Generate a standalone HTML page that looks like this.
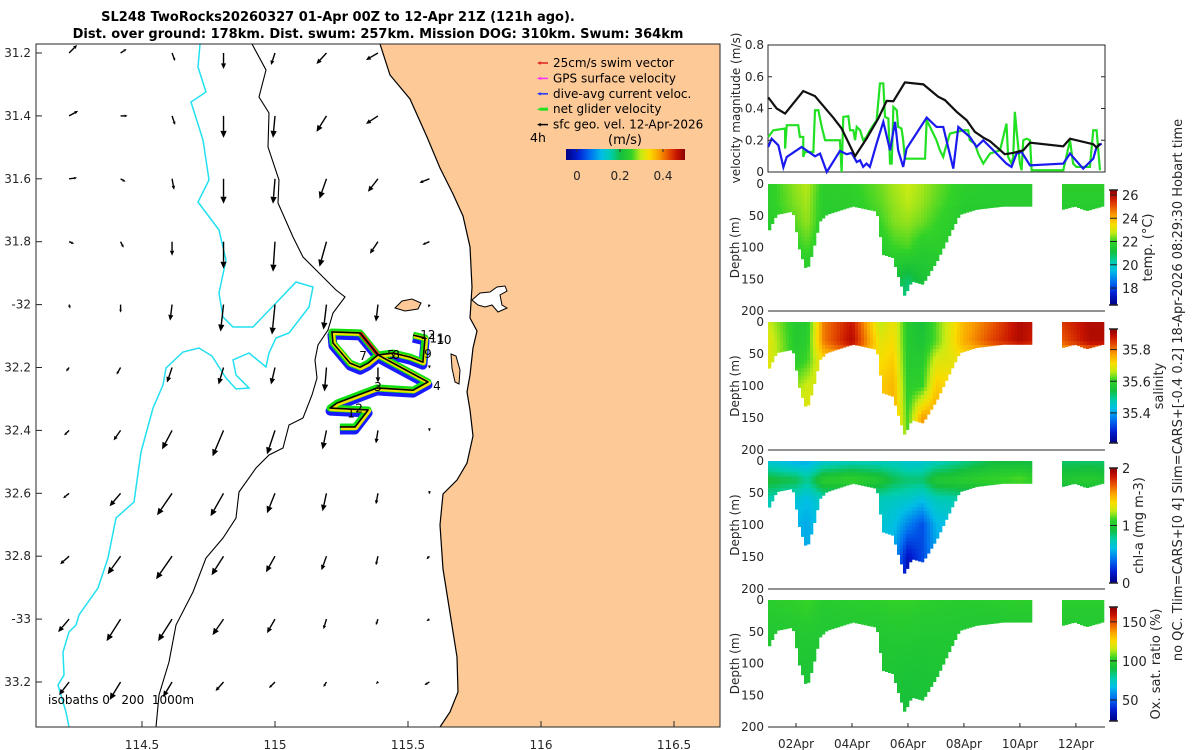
<!DOCTYPE html>
<html><head><meta charset="utf-8">
<style>
html,body{margin:0;padding:0;background:#fff;}
svg{display:block;font-family:"DejaVu Sans","Liberation Sans",sans-serif;}
</style></head>
<body>
<svg id="fig" width="1200" height="750" viewBox="0 0 1200 750" xmlns="http://www.w3.org/2000/svg">
<g id="title" font-weight="bold" font-size="13" fill="#000" text-anchor="middle">
<text x="338" y="21">SL248 TwoRocks20260327 01-Apr 00Z to 12-Apr 21Z (121h ago).</text>
<text x="378" y="38">Dist. over ground: 178km. Dist. swum: 257km. Mission DOG: 310km. Swum: 364km</text>
</g>
<defs>
<clipPath id="mapclip"><rect x="36" y="44" width="684" height="683"/></clipPath>
<linearGradient id="jetH" x1="0" x2="1" y1="0" y2="0"></linearGradient>
<linearGradient id="jetV" x1="0" x2="0" y1="1" y2="0"></linearGradient>
</defs>
<g id="map"></g>
<g id="vel"></g>
<g id="sections"></g>
<text x="1182" y="390" font-size="13" fill="#262626" text-anchor="middle" transform="rotate(-90 1182 390)">no QC. Tlim=CARS+[0 4] Slim=CARS+[-0.4 0.2] 18-Apr-2026 08:29:30 Hobart time</text>
</svg>
<script>
// ---------------- DATA ----------------
const gridLon0 = 114.226, gridDLon = 0.1935;
const gridLats = [-31.2,-31.4,-31.6,-31.8,-32.0,-32.2,-32.4,-32.6,-32.8,-33.0,-33.2];
const vecU = [
 [8,6,3,0,-4,-10,-12,null],
 [9,7,3,0,-2,-10,-12,null],
 [8,5,2,0,-2,-7,-10,-10],
 [5,3,0,0,-2,-7,-8,-7],
 [1,0,-2,-3,-3,-3,-2,-1],
 [-3,-4,-5,-5,-4,-2,0,0],
 [-5,-7,-10,-11,-8,-4,-2,0],
 [-6,-11,-15,-13,-8,-4,-2,0],
 [-9,-13,-16,-12,-9,-5,-2,-3],
 [-11,-14,-14,-11,-8,-3,-2,-3],
 [-10,-11,-9,-8,-6,-3,-2,-5]];
const vecV = [
 [8,4,-8,-16,-12,-11,-7,null],
 [5,0,-9,-22,-22,-16,-8,null],
 [1,-3,-11,-25,-25,-20,-13,-4],
 [-2,-6,-14,-27,-30,-25,-12,-3],
 [-4,-8,-16,-27,-30,-25,-17,-3],
 [-4,-7,-15,-17,-17,-24,-15,-1],
 [-5,-10,-19,-26,-24,-19,-13,-1],
 [-5,-13,-22,-23,-20,-18,-11,-1],
 [-8,-18,-23,-19,-16,-14,-9,-3],
 [-13,-22,-22,-16,-14,-10,-6,-2],
 [-13,-18,-15,-9,-6,-5,-2,-3]];
const trackLon = [115.244,115.301,115.350,115.207,115.233,115.383,115.519,115.575,115.387,115.320,115.214,115.218,115.282,115.320,115.350,115.387,115.444,115.508,115.556,115.564,115.519];
const trackLat = [-32.389,-32.389,-32.335,-32.329,-32.313,-32.265,-32.272,-32.246,-32.160,-32.090,-32.087,-32.122,-32.186,-32.199,-32.186,-32.160,-32.154,-32.167,-32.183,-32.106,-32.097];
const dayLabels = ["1","2","3","4","5","7","8","9","10","11","12"];
const dayLon = [115.286,115.316,115.387,115.609,115.436,115.331,115.455,115.575,115.635,115.609,115.575];
const dayLat = [-32.359,-32.343,-32.275,-32.272,-32.173,-32.176,-32.173,-32.170,-32.126,-32.120,-32.109];
const blackT = [0.01,0.31,0.61,1.26,1.68,2.10,2.33,2.63,3.11,3.52,3.94,4.24,4.48,4.89,5.55,6.08,6.32,6.74,7.10,7.39,7.69,7.93,8.46,8.76,9.12,9.36,10.55,10.79,11.62,11.74,11.86];
const blackV = [0.47,0.40,0.368,0.51,0.478,0.39,0.343,0.274,0.099,0.21,0.337,0.448,0.446,0.564,0.552,0.474,0.453,0.379,0.326,0.253,0.217,0.194,0.112,0.120,0.137,0.185,0.162,0.21,0.175,0.154,0.179];
const blueT = [0.01,0.13,0.37,0.55,0.67,1.20,1.68,1.86,2.10,2.57,2.81,2.99,3.17,3.29,3.40,3.52,3.64,3.88,4.12,4.36,4.54,4.65,4.83,4.95,5.67,6.02,6.26,6.62,6.80,7.21,7.45,7.69,8.05,8.52,8.70,8.88,9.06,9.36,10.55,10.79,11.26,11.62,11.74,11.92];
const blueV = [0.158,0.21,0.168,0.03,0.095,0.158,0.099,0.116,0,0.133,0.112,0.12,0.063,0.074,0.032,0.053,0.032,0.179,0.316,0.137,0.316,0.137,0.032,0.147,0.343,0.284,0.284,0.021,0.284,0.221,0.158,0.2,0.137,0.053,0.032,0.116,0.126,0.042,0.053,0.116,0.021,0.084,0.158,0.179];
const greenT = [0.01,0.19,0.61,0.61,0.67,1.08,1.14,1.26,1.26,1.32,1.62,1.68,1.80,1.92,2.04,2.57,2.63,2.69,2.87,2.93,3.05,3.11,3.17,3.29,3.40,3.52,3.64,3.88,3.94,4.00,4.12,4.18,4.30,4.36,4.42,4.48,4.60,4.65,4.77,4.83,4.89,5.61,5.67,5.79,6.02,6.14,6.26,6.32,6.50,6.98,7.15,7.21,7.39,7.51,7.69,7.93,8.29,8.52,8.58,8.70,8.76,8.82,8.88,9.00,9.06,9.12,9.24,9.36,9.42,10.55,10.79,10.90,11.02,11.50,11.62,11.74,11.86];
const greenV = [0.221,0.263,0.274,0.147,0.295,0.295,0.221,0.221,0.095,0.126,0.126,0.389,0.389,0.284,0.200,0.200,0.0,0.347,0.352,0.263,0.263,0.200,0.284,0.263,0.200,0.221,0.263,0.326,0.442,0.558,0.558,0.347,0.337,0.053,0.053,0.410,0.389,0.284,0.274,0.200,0.084,0.084,0.326,0.284,0.200,0.137,0.095,0.137,0.242,0.263,0.263,0.200,0.179,0.116,0.053,0.116,0.137,0.305,0.095,0.053,0.095,0.379,0.263,0.053,0.011,0.200,0.210,0.200,0.011,0.011,0.200,0.053,0.032,0.032,0.263,0.263,0.011];
const velTicks = [0,0.2,0.4,0.6,0.8];
const dateTicks = [1,3,5,7,9,11];
const dateLabels = ["02Apr","04Apr","06Apr","08Apr","10Apr","12Apr"];
const botT1 = [0,0.32,0.89,1.14,1.39,1.61,1.86,2.11,3.04,3.89,4.11,4.46,4.71,4.89,5.14,5.54,6.04,6.5,6.86,7.46,8.39,9.46];
const botD1 = [77,48,43,106,138,106,59,48,35,43,111,116,153,177,153,158,122,80,48,40,35,35];
const botT2 = [10.54,10.96,11.39,11.96];
const botD2 = [40,35,42,35];
const secT = [0,1,1.4,2,3,4,4.5,5,5.5,6,7,8,9,10.5,11.5,12];
const secD = [0,30,60,100,150,200];
const tempVals = [
 [21.8,22.5,22.7,21.8,21.9,22.3,22.6,22.8,22.6,22.3,21.8,21.7,21.7,21.8,21.8,21.8],
 [21.8,22.4,22.6,21.7,21.8,22.2,22.5,22.7,22.5,22.2,21.7,21.7,21.7,21.7,21.7,21.7],
 [21.7,22.2,22.5,21.7,21.7,22.0,22.4,22.5,22.3,22.0,21.6,21.6,21.6,21.6,21.6,21.6],
 [21.5,21.9,22.1,21.6,21.6,21.7,22.0,22.1,21.7,21.8,21.6,21.6,21.6,21.6,21.6,21.6],
 [21.2,21.5,21.5,21.2,21.2,21.2,21.2,20.8,21.3,21.5,21.2,21.2,21.2,21.2,21.2,21.2],
 [20.8,21.0,21.0,20.8,20.8,20.8,20.8,20.3,20.9,21.0,20.8,20.8,20.8,20.8,20.8,20.8]];
const salVals = [
 [35.67,35.58,35.58,35.80,35.88,35.66,35.70,35.58,35.55,35.62,35.75,35.82,35.90,35.85,35.90,35.90],
 [35.69,35.58,35.59,35.80,35.90,35.69,35.71,35.58,35.56,35.62,35.76,35.84,35.90,35.82,35.90,35.90],
 [35.69,35.59,35.61,35.72,35.76,35.71,35.73,35.58,35.58,35.68,35.70,35.70,35.70,35.70,35.70,35.70],
 [35.69,35.64,35.67,35.69,35.70,35.73,35.75,35.59,35.60,35.73,35.70,35.70,35.70,35.70,35.70,35.70],
 [35.70,35.69,35.69,35.70,35.70,35.72,35.76,35.61,35.77,35.77,35.70,35.70,35.70,35.70,35.70,35.70],
 [35.70,35.70,35.70,35.70,35.70,35.72,35.76,35.62,35.78,35.78,35.70,35.70,35.70,35.70,35.70,35.70]];
const chlVals = [
 [0.65,0.55,0.55,0.65,0.70,0.70,0.70,0.65,0.65,0.70,0.80,0.90,0.90,0.85,0.85,0.85],
 [0.95,0.90,0.80,1.05,1.10,1.00,0.90,0.85,0.85,1.00,1.05,1.10,1.15,1.00,1.05,1.00],
 [0.75,0.65,0.60,0.72,0.72,0.72,0.70,0.68,0.62,0.72,0.76,0.80,0.80,0.80,0.80,0.80],
 [0.68,0.58,0.55,0.65,0.65,0.66,0.62,0.45,0.32,0.58,0.65,0.65,0.65,0.65,0.65,0.65],
 [0.62,0.55,0.55,0.62,0.62,0.62,0.52,0.15,0.30,0.52,0.62,0.62,0.62,0.62,0.62,0.62],
 [0.60,0.55,0.55,0.60,0.60,0.60,0.50,0.05,0.30,0.50,0.60,0.60,0.60,0.60,0.60,0.60]];
const oxVals = [
 [100,102,104,99,100,101,103,103,101,100,99,100,101,100,100,100],
 [98,99,100,97,98,98,99,99,98,98,97,97,98,98,98,98],
 [96,96,97,96,96,96,97,97,96,96,96,96,96,96,96,96],
 [95,95,95,95,95,95,95,94,94,95,95,95,95,95,95,95],
 [93,93,93,93,93,93,93,92,93,93,93,93,93,93,93,93],
 [92,92,92,92,92,92,92,91,92,92,92,92,92,92,92,92]];
const tempTicks = [18,20,22,24,26];
const salTicks = [35.4,35.6,35.8];
const chlTicks = [0,1,2];
const oxTicks = [50,100,150];
const depthTicks = [0,50,100,150,200];
const legendLabels = ["25cm/s swim vector","GPS surface velocity","dive-avg current veloc.","net glider velocity","sfc geo. vel. 12-Apr-2026"];
const legendColors = ["#e02020","#ff30ff","#2030ff","#20e020","#000000"];
const mapLonTicks = [114.5,115,115.5,116,116.5];
const mapLatTicks = [-31.2,-31.4,-31.6,-31.8,-32,-32.2,-32.4,-32.6,-32.8,-33,-33.2];
const cbarTicks = [0,0.2,0.4];

// ---------------- HELPERS ----------------
const NS="http://www.w3.org/2000/svg";
function mk(tag, attrs, parent){const e=document.createElementNS(NS,tag);for(const k in attrs)e.setAttribute(k,attrs[k]);if(parent)parent.appendChild(e);return e;}
function clamp(v){return Math.max(0,Math.min(1,v));}
const cmapStops=[[0,[0,0,130]],[0.1,[0,30,210]],[0.2,[0,110,240]],[0.3,[0,190,230]],[0.38,[0,205,170]],[0.46,[20,190,60]],[0.55,[50,210,40]],[0.63,[200,235,20]],[0.7,[250,220,0]],[0.78,[250,160,0]],[0.86,[230,80,0]],[0.93,[200,20,0]],[1,[140,0,0]]];
function jet(v){v=clamp(v);let i=1;while(i<cmapStops.length-1&&v>cmapStops[i][0])i++;const a=cmapStops[i-1],b=cmapStops[i];const f=(v-a[0])/(b[0]-a[0]);
 const c=a[1].map((x,k)=>Math.round(x+f*(b[1][k]-x)));return "rgb("+c.join(",")+")";}
const lonX = lon => 142 + (lon-114.5)*266;
const latY = lat => 53 + (-31.2-lat)/0.2*62.9;
["jetH","jetV"].forEach(id=>{const g=document.getElementById(id);for(let i=0;i<=40;i++){mk("stop",{offset:(i/40),"stop-color":jet(i/40)},g);}});

// ---------------- MAP ----------------
const map=document.getElementById("map");
mk("rect",{x:36,y:44,width:684,height:683,fill:"#fff"},map);
const mc=mk("g",{"clip-path":"url(#mapclip)"},map);
const coast=[[380,44],[390,75],[410,99],[427,137],[440,168],[453,194],[463,216],[470,247],[472,287],[470,318],[477,331],[473,348],[470,375],[467,392],[470,410],[473,436],[467,463],[457,480],[443,494],[440,525],[443,569],[450,613],[457,657],[458,692],[450,712],[440,727]];
let d="M720,44 L"+coast.map(p=>p.join(",")).join(" L")+" L720,727 Z";
const land=mk("path",{d:d,fill:"#fcc997",stroke:"none"},mc);


const cl=mk("polyline",{points:coast.map(p=>p.join(",")).join(" "),fill:"none",stroke:"#000","stroke-width":1.2},mc);


const est=mk("path",{d:"M472,300 L480,293 L490,292 L497,287 L505,286 L507,291 L500,295 L502,305 L507,308 L498,312 L492,305 L485,307 L478,305 Z",fill:"#fff",stroke:"#000","stroke-width":1},mc);


const rot=mk("path",{d:"M395,308 L402,301 L412,299 L421,303 L418,309 L405,311 Z",fill:"#fcc997",stroke:"#000","stroke-width":1},mc);


const gi=mk("path",{d:"M451,354 L456,356 L460,370 L459,384 L455,382 L452,368 Z",fill:"#fcc997",stroke:"#000","stroke-width":1},mc);


const iso1000=[[200,44],[198,67],[206,92],[191,102],[203,140],[209,180],[198,202],[219,230],[226,260],[219,293],[223,317],[233,327],[253,327],[276,303],[296,282],[313,287],[309,307],[289,333],[276,338],[269,353],[266,367],[249,353],[233,360],[236,375],[249,388],[236,389],[226,378],[212,356],[199,348],[183,352],[166,368],[163,385],[153,408],[141,452],[134,502],[116,518],[108,558],[98,588],[79,615],[76,625],[69,632],[63,652],[64,675],[58,685],[66,712],[69,727]];
const i1=mk("polyline",{points:iso1000.map(p=>p.join(",")).join(" "),fill:"none",stroke:"#22e0f0","stroke-width":1.5},mc);


const iso200=[[252,44],[266,70],[259,97],[269,113],[268,147],[279,180],[278,203],[293,237],[303,257],[316,270],[336,290],[345,297],[333,313],[328,330],[318,345],[315,360],[317,378],[312,395],[303,418],[289,425],[283,448],[269,455],[256,468],[239,492],[236,518],[223,538],[206,558],[193,592],[176,625],[169,662],[159,695],[156,727]];
const i2=mk("polyline",{points:iso200.map(p=>p.join(",")).join(" "),fill:"none",stroke:"#000","stroke-width":1.1},mc);


function arrow(g,x0,y0,dx,dy,col,w){
  const L=Math.hypot(dx,dy); if(L<0.5){mk("circle",{cx:x0,cy:y0,r:1.3,fill:col},g);return;}
  const ux=dx/L,uy=dy/L,hl=Math.min(7,Math.max(3,L*0.35)),hw=hl*0.45;
  const x1=x0+dx,y1=y0+dy,bx=x1-ux*hl,by=y1-uy*hl;
  mk("line",{x1:x0,y1:y0,x2:bx,y2:by,stroke:col,"stroke-width":w},g);
  mk("polygon",{points:x1+","+y1+" "+(bx-uy*hw)+","+(by+ux*hw)+" "+(bx+uy*hw)+","+(by-ux*hw),fill:col},g);
}
const vg=mk("g",{},mc);


for(let j=0;j<gridLats.length;j++)for(let i=0;i<8;i++){
  if(vecU[j][i]===null)continue;
  const a=mk("g",{},vg);
  
  
  arrow(a,lonX(gridLon0+gridDLon*i),latY(gridLats[j]),vecU[j][i],-vecV[j][i],"#000",1.4);
}
const tp=trackLon.map((l,i)=>[lonX(l),latY(trackLat[i])]);
const tg=mk("g",{},mc);


mk("polyline",{points:tp.map(p=>p[0]+","+(p[1]+3)).join(" "),fill:"none",stroke:"#1a1aff","stroke-width":9,"stroke-linejoin":"round"},tg);
mk("polyline",{points:tp.map(p=>p.join(",")).join(" "),fill:"none",stroke:"#10e010","stroke-width":7,"stroke-linejoin":"round"},tg);
mk("polyline",{points:tp.map(p=>(p[0]+1)+","+(p[1]+1)).join(" "),fill:"none",stroke:"#f0e000","stroke-width":4,"stroke-linejoin":"round"},tg);
mk("polyline",{points:tp.slice(8,10).map(p=>p.join(",")).join(" "),fill:"none",stroke:"#e02020","stroke-width":4},tg);
mk("polyline",{points:tp.map(p=>p.join(",")).join(" "),fill:"none",stroke:"#000","stroke-width":1.6,"stroke-linejoin":"round"},tg);
dayLabels.forEach((s,i)=>{const t=mk("text",{x:lonX(dayLon[i]),y:latY(dayLat[i]),"font-size":12,fill:"#000","text-anchor":"middle"},mc);t.textContent=s;

});
legendLabels.forEach((s,i)=>{const y=63+i*15.4;
 const lg=mk("g",{},map);
 
 
 arrow(lg,548,y,-11,0,legendColors[i],i==3?3:1.5);
 const t=mk("text",{x:553,y:y+4,"font-size":12,fill:"#000"},lg);t.textContent=s;});
const t4=mk("text",{x:530,y:142,"font-size":12.5,fill:"#000"},map);t4.textContent="4h";


const tms=mk("text",{x:625,y:144,"font-size":13,fill:"#000","text-anchor":"middle"},map);tms.textContent="(m/s)";


const cb=mk("rect",{x:566,y:149,width:119,height:11,fill:"url(#jetH)"},map);


const cbx=v=>577+v*215;
cbarTicks.forEach(v=>{mk("line",{x1:cbx(v),x2:cbx(v),y1:149,y2:152,stroke:"#333"},map);
 const t=mk("text",{x:cbx(v),y:180,"font-size":12,fill:"#262626","text-anchor":"middle"},map);t.textContent=v===0?"0":String(v);
 
 });
const fr=mk("rect",{x:36,y:44,width:684,height:683,fill:"none",stroke:"#262626","stroke-width":1},map);


mapLonTicks.forEach(l=>{const x=lonX(l);mk("line",{x1:x,x2:x,y1:727,y2:721,stroke:"#262626"},map);
 const t=mk("text",{x:x,y:749,"font-size":12,fill:"#262626","text-anchor":"middle"},map);t.textContent=String(l);
 
 });
mapLatTicks.forEach(l=>{const y=latY(l);mk("line",{x1:36,x2:42,y1:y,y2:y,stroke:"#262626"},map);
 let s=(Math.abs(l)%1===0)?String(l):String(Math.abs(l));
 const t=mk("text",{x:31,y:y+4,"font-size":12,fill:"#262626","text-anchor":"end"},map);t.textContent=s;
 
 });
const isoT=mk("text",{x:48,y:704,"font-size":12,fill:"#000"},map);isoT.textContent="isobaths 0\u00a0\u00a0\u00a0200\u00a0\u00a01000m";



// ---------------- VELOCITY PANEL ----------------
const X0=768,X1=1105,T1=12.04;
const tx=t=>X0+(t/T1)*(X1-X0);
const vel=document.getElementById("vel");
const vy=v=>172-(v/0.8)*127;
mk("rect",{x:X0,y:45,width:X1-X0,height:127,fill:"#fff",stroke:"#262626"},vel);
[[greenT,greenV,"#22e022",2.2,"green-net-velocity-line"],[blueT,blueV,"#1a1af0",2.2,"blue-current-line"],[blackT,blackV,"#111",2.2,"black-geo-velocity-line"]].forEach(s=>{
 const p=mk("polyline",{points:s[0].map((t,i)=>tx(t)+","+vy(s[1][i])).join(" "),fill:"none",stroke:s[2],"stroke-width":s[3]},vel);
 
 });
velTicks.forEach(v=>{const y=vy(v);mk("line",{x1:X0,x2:X0+4,y1:y,y2:y,stroke:"#262626"},vel);mk("line",{x1:X1,x2:X1-4,y1:y,y2:y,stroke:"#262626"},vel);
 const t=mk("text",{x:764,y:y+4,"font-size":12,fill:"#262626","text-anchor":"end"},vel);t.textContent=String(v);
 
 });
const vl=mk("text",{x:740,y:108,"font-size":12,fill:"#262626","text-anchor":"middle",transform:"rotate(-90 740 108)"},vel);vl.textContent="velocity magnitude (m/s)";



// ---------------- SECTIONS ----------------
function interp(xs,ys,x){if(x<=xs[0])return ys[0];for(let i=1;i<xs.length;i++){if(x<=xs[i]){const f=(x-xs[i-1])/(xs[i]-xs[i-1]);return ys[i-1]+f*(ys[i]-ys[i-1]);}}return ys[ys.length-1];}
function bottom(t){if(t<=botT1[botT1.length-1])return interp(botT1,botD1,t);if(t>=botT2[0]&&t<=botT2[botT2.length-1])return interp(botT2,botD2,t);return null;}
function gridVal(vals,t,dd){let i=0;while(i<secD.length-2&&dd>secD[i+1])i++;const f=clamp((dd-secD[i])/(secD[i+1]-secD[i]));const a=interp(secT,vals[i],t),b=interp(secT,vals[i+1],t);return a+f*(b-a);}
const secG=document.getElementById("sections");
const panels=[
 {top:184,bot:311,vals:tempVals,vmin:16.54,vmax:26.43,cb:[190,305],ticks:tempTicks,label:"temp. (°C)",lx:1152,name:"temperature"},
 {top:322,bot:450,vals:salVals,vmin:35.21,vmax:35.93,cb:[329,443],ticks:salTicks,label:"salinity",lx:1163,name:"salinity"},
 {top:461,bot:589,vals:chlVals,vmin:0,vmax:2,cb:[468,583],ticks:chlTicks,label:"chl-a (mg m-3)",lx:1143,name:"chlorophyll"},
 {top:600,bot:727,vals:oxVals,vmin:23,vmax:169,cb:[607,721],ticks:oxTicks,label:"Ox. sat. ratio (%)",lx:1160,name:"oxygen"}];
panels.forEach((P,pi)=>{
 const g=mk("g",{},secG);
 
 
 const dy=d=>P.top+(d/200)*(P.bot-P.top);
 const cells=mk("g",{},g);
 
 
 for(let x=X0;x<X0+(X1-X0)*11.99/T1;x+=3){
   const t=(x+1.5-X0)/(X1-X0)*T1;const b=bottom(t);if(b===null)continue;
   for(let d0=0;d0<b;d0+=6){const h=Math.min(6,b-d0);
     const v=gridVal(P.vals,t,d0+3);
     mk("rect",{x:x,y:dy(d0).toFixed(1),width:3.3,height:((h/200)*(P.bot-P.top)+0.4).toFixed(1),fill:jet((v-P.vmin)/(P.vmax-P.vmin))},cells);}
 }
 mk("line",{x1:X0,x2:X1,y1:P.bot,y2:P.bot,stroke:"#262626"},g);
 depthTicks.forEach(d=>{const t=mk("text",{x:764,y:dy(d)+4,"font-size":12,fill:"#262626","text-anchor":"end"},g);t.textContent=String(d);
  
  });
 const yl=mk("text",{x:739,y:(P.top+P.bot)/2,"font-size":12,fill:"#262626","text-anchor":"middle",transform:"rotate(-90 739 "+((P.top+P.bot)/2)+")"},g);yl.textContent="Depth (m)";
 
 
 if(pi===3){dateTicks.forEach((t,i)=>{mk("line",{x1:tx(t),x2:tx(t),y1:P.bot,y2:P.bot-4,stroke:"#262626"},g);
   const tl=mk("text",{x:tx(t),y:748,"font-size":12,fill:"#262626","text-anchor":"middle"},g);tl.textContent=dateLabels[i];
   
   });}
 const c=mk("rect",{x:1110,y:P.cb[0],width:7,height:P.cb[1]-P.cb[0],fill:"url(#jetV)"},g);
 
 
 mk("line",{x1:1109,x2:1118,y1:P.cb[0],y2:P.cb[0],stroke:"#222","stroke-width":1.5},g);
 mk("line",{x1:1109,x2:1118,y1:P.cb[1],y2:P.cb[1],stroke:"#222","stroke-width":1.5},g);
 P.ticks.forEach(v=>{const y=P.cb[1]-(v-P.vmin)/(P.vmax-P.vmin)*(P.cb[1]-P.cb[0]);
  mk("line",{x1:1110,x2:1117,y1:y,y2:y,stroke:"#222"},g);
  const t=mk("text",{x:1122,y:y+5,"font-size":13,fill:"#262626"},g);t.textContent=String(v);
  
  });
 const cy=(P.cb[0]+P.cb[1])/2;
 const cl2=mk("text",{x:P.lx,y:cy,"font-size":13,fill:"#262626","text-anchor":"middle",transform:"rotate(-90 "+P.lx+" "+cy+")"},g);cl2.textContent=P.label;
 
 
});
</script>
</body></html>
